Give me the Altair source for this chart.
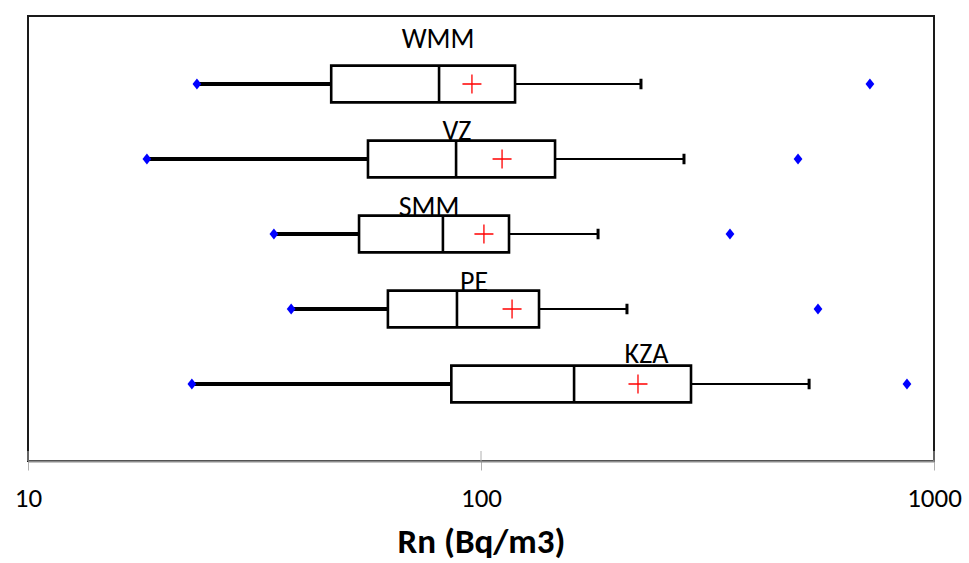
import altair as alt
import pandas as pd

# Radon concentration summary per site (Bq/m3)
sites = ["KZA", "PE", "SMM", "VZ", "WMM"]
minimum = [23.0, 38.1, 34.9, 18.3, 23.6]
q1 = [86.0, 62.3, 53.8, 56.3, 46.7]
median = [160.5, 88.5, 82.4, 88.1, 80.8]
q3 = [290.8, 134.3, 115.3, 145.7, 118.9]
whisker_max = [530.0, 210.0, 181.3, 280.6, 225.5]
mean = [222.1, 117.1, 101.5, 111.3, 95.5]
maximum = [871.6, 554.5, 354.5, 501.0, 722.0]

# Site name annotation anchors (x in Bq/m3, y in row units)
label_x = [231.9, 96.5, 76.8, 88.5, 80.4]
label_y = [1.276, 2.244, 3.24, 4.253, 5.48]

tick_values = [10, 100, 1000]

df = pd.DataFrame({
    "site": sites,
    "row": list(range(1, len(sites) + 1)),
    "min": minimum,
    "q1": q1,
    "median": median,
    "q3": q3,
    "wmax": whisker_max,
    "mean": mean,
    "max": maximum,
    "lx": label_x,
    "ly": label_y,
})

W, H = 906, 445
HALF = 0.245
CAP = 0.07
FONT = "Carlito, Lato, sans-serif"

xscale = alt.Scale(type="log", domain=[10, 1000], nice=False)
yscale = alt.Scale(domain=[-0.0267, 5.9067], nice=False, zero=False)

x_axis = alt.Axis(
    values=tick_values,
    format="d",
    title="Rn (Bq/m3)",
    grid=False,
    domainColor="#8c8c8c",
    domainWidth=2,
    tickColor="#b0b0b0",
    tickWidth=1,
    tickSize=9,
    labelFont=FONT,
    labelFontSize=27,
    labelColor="#000000",
    labelPadding=15,
    labelFlush=False,
    titleFont=FONT,
    titleFontSize=35,
    titleFontWeight="bold",
    titleColor="#000000",
    titlePadding=13,
)


def X(field):
    return alt.X(f"{field}:Q", scale=xscale, axis=x_axis)


def Yf(field):
    return alt.Y(f"{field}:Q", scale=yscale, axis=None)


base = alt.Chart(df).transform_calculate(
    lo=f"datum.row - {HALF}",
    hi=f"datum.row + {HALF}",
    clo=f"datum.row - {CAP}",
    chi=f"datum.row + {CAP}",
)

# crossing tick marks: outer part comes from the axis, inner part drawn here
inner_ticks = alt.Chart(pd.DataFrame({"t": tick_values})).mark_rule(
    color="#b0b0b0", strokeWidth=1
).encode(
    x=X("t"),
    y=alt.value(H - 10),
    y2=alt.value(H),
)

# lower whisker (heavy) and upper whisker (light) with end cap
low_whisker = base.mark_rule(color="black", strokeWidth=4).encode(
    x=X("min"), x2="q1:Q", y=Yf("row")
)
high_whisker = base.mark_rule(color="black", strokeWidth=2.2).encode(
    x=X("q3"), x2="wmax:Q", y=Yf("row")
)
cap = base.mark_rule(color="black", strokeWidth=3).encode(
    x=X("wmax"), y=Yf("clo"), y2="chi:Q"
)

box = base.mark_rect(fill="white", stroke="black", strokeWidth=2.6).encode(
    x=X("q1"), x2="q3:Q", y=Yf("lo"), y2="hi:Q"
)
med = base.mark_rule(color="black", strokeWidth=2.6).encode(
    x=X("median"), y=Yf("lo"), y2="hi:Q"
)

mean_mark = base.mark_point(
    shape="M-1,0H1M0,-1V1", size=361, filled=False, color="#ff0000",
    strokeWidth=1.3, opacity=1,
).encode(x=X("mean"), y=Yf("row"))

diamond = "M0,-1.15L0.9,0L0,1.15L-0.9,0Z"
min_pt = base.mark_point(
    shape=diamond, size=95, filled=True, color="#0000ff", opacity=1
).encode(x=X("min"), y=Yf("row"))
max_pt = base.mark_point(
    shape=diamond, size=95, filled=True, color="#0000ff", opacity=1
).encode(x=X("max"), y=Yf("row"))

labels = base.mark_text(
    font=FONT, fontSize=28, color="black", align="center", baseline="alphabetic"
).encode(x=X("lx"), y=Yf("ly"), text="site:N")

chart = alt.layer(
    inner_ticks, low_whisker, high_whisker, cap, box, med, mean_mark,
    min_pt, max_pt, labels,
).properties(
    width=W,
    height=H,
    autosize=alt.AutoSizeParams(type="none"),
    padding={"left": 28, "top": 16, "right": 35, "bottom": 102},
    background="white",
).configure_view(stroke="#1a1a1a", strokeWidth=2)

chart.save("out.html", embed_options={"renderer": "svg", "actions": False})
